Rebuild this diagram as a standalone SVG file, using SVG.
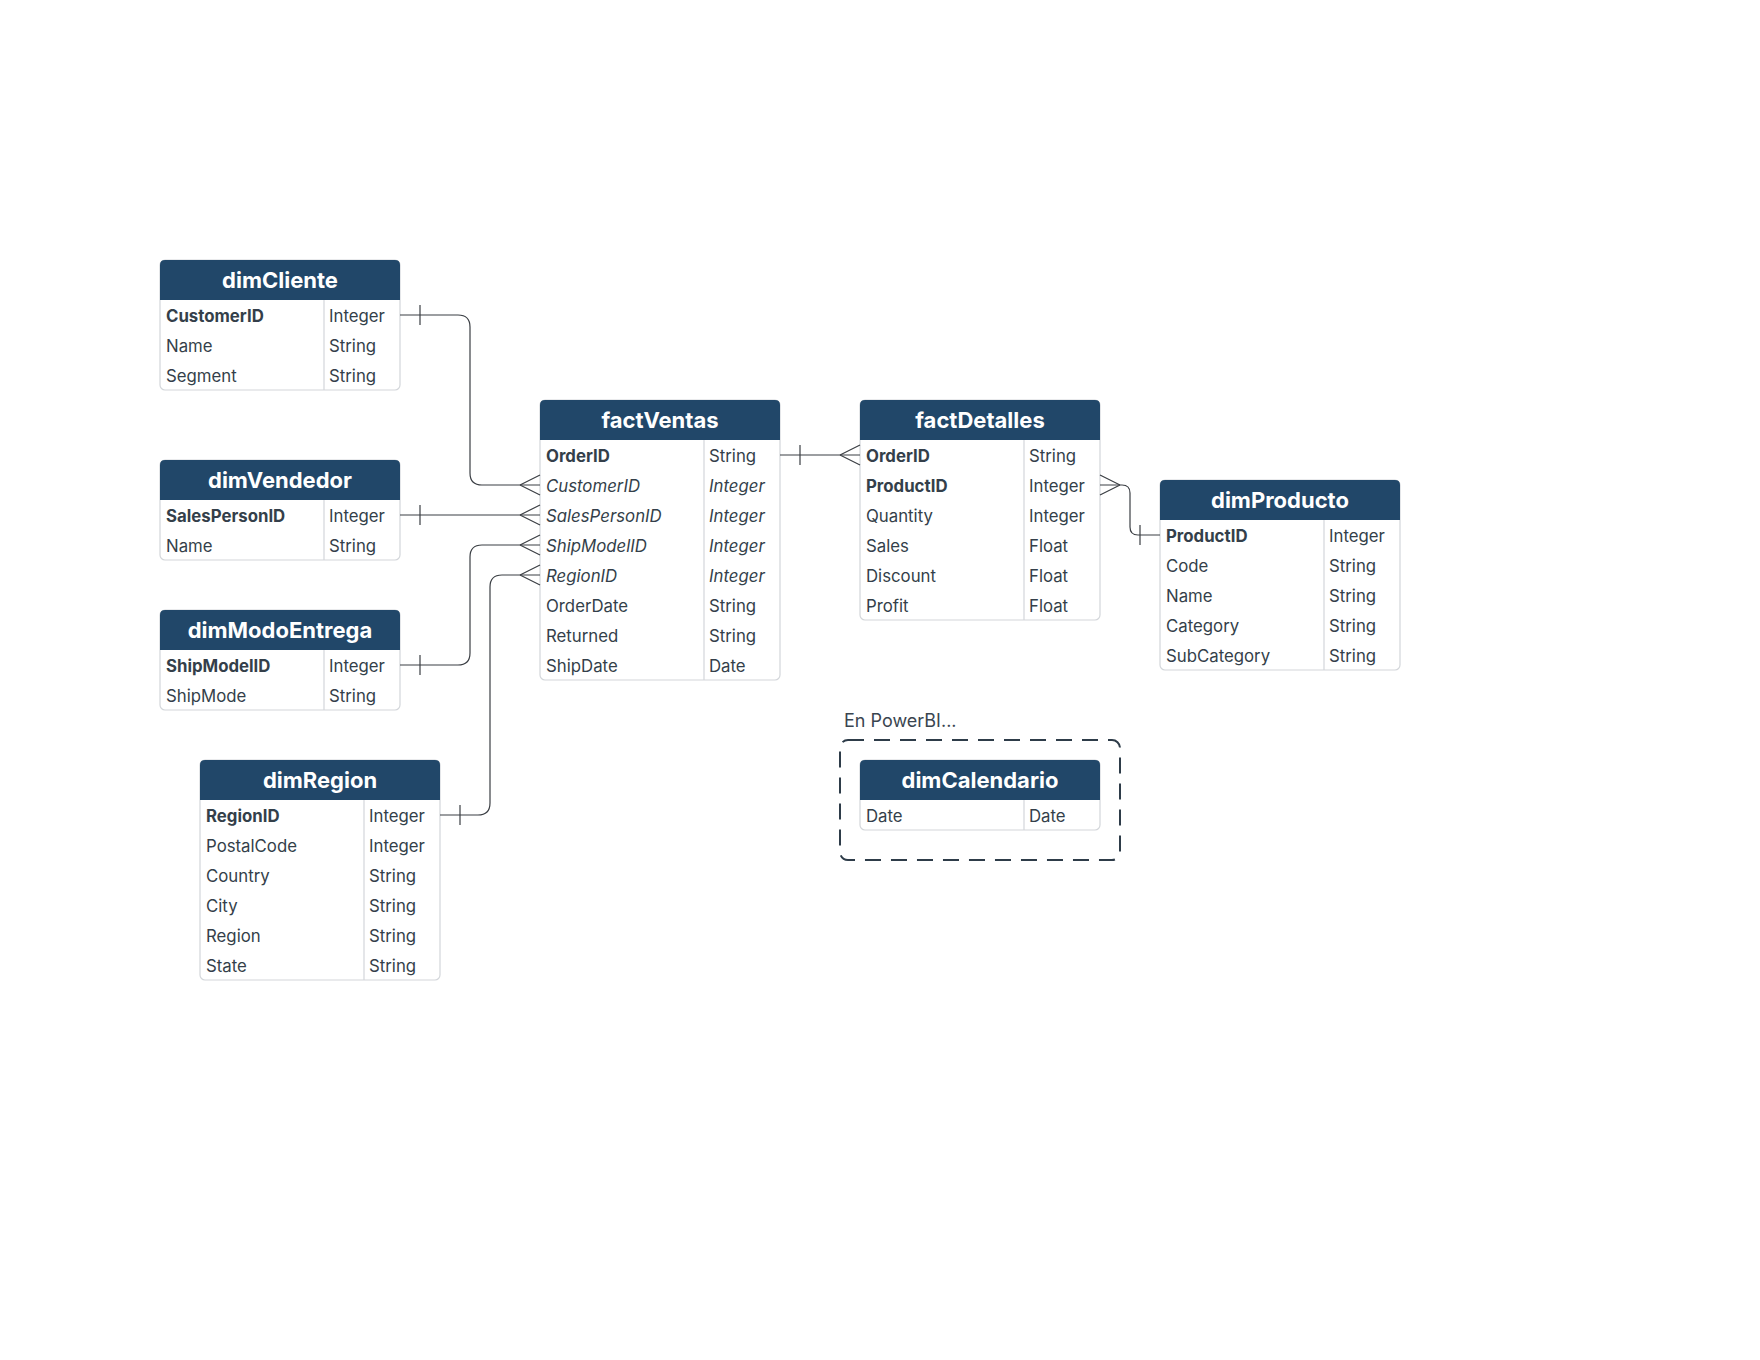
<svg xmlns="http://www.w3.org/2000/svg" width="1760" height="1360" viewBox="0 0 1760 1360">
<style>
.box{fill:#ffffff;stroke:#d3d6da;stroke-width:1.2}
.hdr{fill:#214769}
.div{stroke:#d3d6da;stroke-width:1.2}
.title{font-family:Inter,"Liberation Sans",sans-serif;font-size:22px;font-weight:700;fill:#ffffff;text-anchor:middle}
.t{font-family:Inter,"Liberation Sans",sans-serif;font-size:16.8px;fill:#343f4a}
.b{font-weight:700}
.i{font-style:italic}
.con{fill:none;stroke:#3b3f44;stroke-width:1.2}
.note{font-family:Inter,"Liberation Sans",sans-serif;font-size:18px;fill:#3a4550}
</style>
<rect width="1760" height="1360" fill="#ffffff"/>

<g id="dimCliente" transform="translate(160,260)">
<rect class="box" x="0" y="0" width="240" height="130" rx="5"/>
<path class="hdr" d="M0,40 V5 Q0,0 5,0 H235 Q240,0 240,5 V40 Z"/>
<line class="div" x1="164" y1="40" x2="164" y2="130"/>
<text class="title" x="120" y="28">dimCliente</text>
<text class="t b" x="6" y="62">CustomerID</text><text class="t" x="169" y="62">Integer</text>
<text class="t" x="6" y="92">Name</text><text class="t" x="169" y="92">String</text>
<text class="t" x="6" y="122">Segment</text><text class="t" x="169" y="122">String</text>
</g>

<g id="dimVendedor" transform="translate(160,460)">
<rect class="box" x="0" y="0" width="240" height="100" rx="5"/>
<path class="hdr" d="M0,40 V5 Q0,0 5,0 H235 Q240,0 240,5 V40 Z"/>
<line class="div" x1="164" y1="40" x2="164" y2="100"/>
<text class="title" x="120" y="28">dimVendedor</text>
<text class="t b" x="6" y="62">SalesPersonID</text><text class="t" x="169" y="62">Integer</text>
<text class="t" x="6" y="92">Name</text><text class="t" x="169" y="92">String</text>
</g>

<g id="dimModoEntrega" transform="translate(160,610)">
<rect class="box" x="0" y="0" width="240" height="100" rx="5"/>
<path class="hdr" d="M0,40 V5 Q0,0 5,0 H235 Q240,0 240,5 V40 Z"/>
<line class="div" x1="164" y1="40" x2="164" y2="100"/>
<text class="title" x="120" y="28">dimModoEntrega</text>
<text class="t b" x="6" y="62">ShipModelID</text><text class="t" x="169" y="62">Integer</text>
<text class="t" x="6" y="92">ShipMode</text><text class="t" x="169" y="92">String</text>
</g>

<g id="dimRegion" transform="translate(200,760)">
<rect class="box" x="0" y="0" width="240" height="220" rx="5"/>
<path class="hdr" d="M0,40 V5 Q0,0 5,0 H235 Q240,0 240,5 V40 Z"/>
<line class="div" x1="164" y1="40" x2="164" y2="220"/>
<text class="title" x="120" y="28">dimRegion</text>
<text class="t b" x="6" y="62">RegionID</text><text class="t" x="169" y="62">Integer</text>
<text class="t" x="6" y="92">PostalCode</text><text class="t" x="169" y="92">Integer</text>
<text class="t" x="6" y="122">Country</text><text class="t" x="169" y="122">String</text>
<text class="t" x="6" y="152">City</text><text class="t" x="169" y="152">String</text>
<text class="t" x="6" y="182">Region</text><text class="t" x="169" y="182">String</text>
<text class="t" x="6" y="212">State</text><text class="t" x="169" y="212">String</text>
</g>

<g id="factVentas" transform="translate(540,400)">
<rect class="box" x="0" y="0" width="240" height="280" rx="5"/>
<path class="hdr" d="M0,40 V5 Q0,0 5,0 H235 Q240,0 240,5 V40 Z"/>
<line class="div" x1="164" y1="40" x2="164" y2="280"/>
<text class="title" x="120" y="28">factVentas</text>
<text class="t b" x="6" y="62">OrderID</text><text class="t" x="169" y="62">String</text>
<text class="t i" x="6" y="92">CustomerID</text><text class="t i" x="169" y="92">Integer</text>
<text class="t i" x="6" y="122">SalesPersonID</text><text class="t i" x="169" y="122">Integer</text>
<text class="t i" x="6" y="152">ShipModelID</text><text class="t i" x="169" y="152">Integer</text>
<text class="t i" x="6" y="182">RegionID</text><text class="t i" x="169" y="182">Integer</text>
<text class="t" x="6" y="212">OrderDate</text><text class="t" x="169" y="212">String</text>
<text class="t" x="6" y="242">Returned</text><text class="t" x="169" y="242">String</text>
<text class="t" x="6" y="272">ShipDate</text><text class="t" x="169" y="272">Date</text>
</g>

<g id="factDetalles" transform="translate(860,400)">
<rect class="box" x="0" y="0" width="240" height="220" rx="5"/>
<path class="hdr" d="M0,40 V5 Q0,0 5,0 H235 Q240,0 240,5 V40 Z"/>
<line class="div" x1="164" y1="40" x2="164" y2="220"/>
<text class="title" x="120" y="28">factDetalles</text>
<text class="t b" x="6" y="62">OrderID</text><text class="t" x="169" y="62">String</text>
<text class="t b" x="6" y="92">ProductID</text><text class="t" x="169" y="92">Integer</text>
<text class="t" x="6" y="122">Quantity</text><text class="t" x="169" y="122">Integer</text>
<text class="t" x="6" y="152">Sales</text><text class="t" x="169" y="152">Float</text>
<text class="t" x="6" y="182">Discount</text><text class="t" x="169" y="182">Float</text>
<text class="t" x="6" y="212">Profit</text><text class="t" x="169" y="212">Float</text>
</g>

<g id="dimProducto" transform="translate(1160,480)">
<rect class="box" x="0" y="0" width="240" height="190" rx="5"/>
<path class="hdr" d="M0,40 V5 Q0,0 5,0 H235 Q240,0 240,5 V40 Z"/>
<line class="div" x1="164" y1="40" x2="164" y2="190"/>
<text class="title" x="120" y="28">dimProducto</text>
<text class="t b" x="6" y="62">ProductID</text><text class="t" x="169" y="62">Integer</text>
<text class="t" x="6" y="92">Code</text><text class="t" x="169" y="92">String</text>
<text class="t" x="6" y="122">Name</text><text class="t" x="169" y="122">String</text>
<text class="t" x="6" y="152">Category</text><text class="t" x="169" y="152">String</text>
<text class="t" x="6" y="182">SubCategory</text><text class="t" x="169" y="182">String</text>
</g>

<g id="grupoPowerBI">
<text class="note" x="844" y="727">En PowerBI...</text>
<rect x="840" y="740" width="280" height="120" rx="8" fill="none" stroke="#2e3c49" stroke-width="2" stroke-dasharray="16 10"/>
</g>

<g id="dimCalendario" transform="translate(860,760)">
<rect class="box" x="0" y="0" width="240" height="70" rx="5"/>
<path class="hdr" d="M0,40 V5 Q0,0 5,0 H235 Q240,0 240,5 V40 Z"/>
<line class="div" x1="164" y1="40" x2="164" y2="70"/>
<text class="title" x="120" y="28">dimCalendario</text>
<text class="t" x="6" y="62">Date</text><text class="t" x="169" y="62">Date</text>
</g>

<g id="connectors">
<path class="con" d="M400,315 H458 Q470,315 470,327 V473 Q470,485 482,485 H540"/>
<path class="con" d="M420,305 V325 M520,485 L540,475 M520,485 L540,495"/>
<path class="con" d="M400,515 H540"/>
<path class="con" d="M420,505 V525 M520,515 L540,505 M520,515 L540,525"/>
<path class="con" d="M400,665 H458 Q470,665 470,653 V557 Q470,545 482,545 H540"/>
<path class="con" d="M420,655 V675 M520,545 L540,535 M520,545 L540,555"/>
<path class="con" d="M440,815 H478 Q490,815 490,803 V587 Q490,575 502,575 H540"/>
<path class="con" d="M460,805 V825 M520,575 L540,565 M520,575 L540,585"/>
<path class="con" d="M780,455 H860"/>
<path class="con" d="M800,445 V465 M840,455 L860,445 M840,455 L860,465"/>
<path class="con" d="M1100,485 H1122 Q1130,485 1130,493 V527 Q1130,535 1138,535 H1160"/>
<path class="con" d="M1120,485 L1100,475 M1120,485 L1100,495 M1140,525 V545"/>
</g>
</svg>
